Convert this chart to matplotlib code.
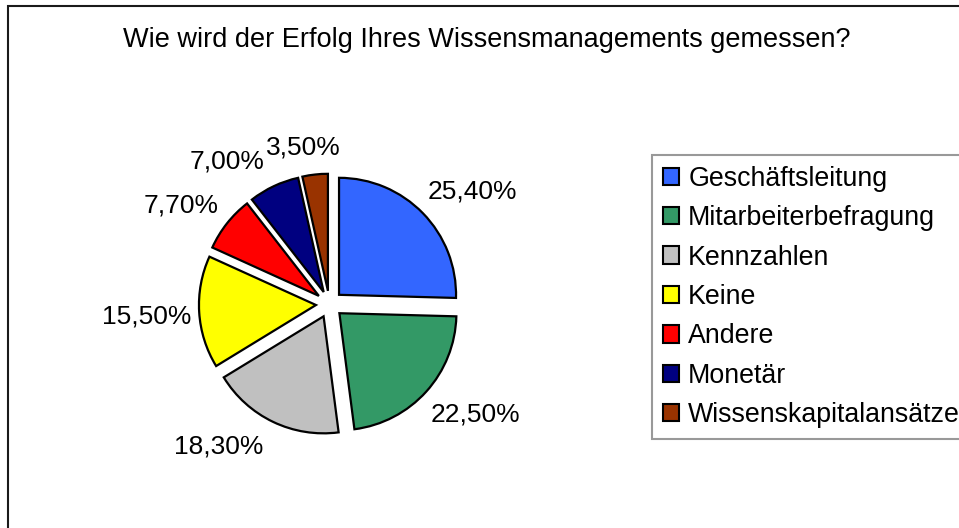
import numpy as np
import matplotlib
matplotlib.use('Agg')
from matplotlib import pyplot as plt
from matplotlib.patches import Patch, Rectangle

# survey data (percent)
categories = ['Geschäftsleitung', 'Mitarbeiterbefragung', 'Kennzahlen', 'Keine',
              'Andere', 'Monetär', 'Wissenskapitalansätze']
values = [25.4, 22.5, 18.3, 15.5, 7.7, 7.0, 3.5]
colors = ['#3366FF', '#339966', '#C0C0C0', '#FFFF00', '#FF0000', '#000080', '#993300']
title = 'Wie wird der Erfolg Ihres Wissensmanagements gemessen?'

# label placement (polar, relative to pie centre, in pie radii)
label_angle = [36.6, -38.9, -126.5, -174.1, 148.2, 127.0, 100.0]
label_radius = [1.52, 1.60, 1.59, 1.57, 1.49, 1.45, 1.30]

plt.rcParams['font.family'] = ['Liberation Sans', 'DejaVu Sans']

W, H = 959, 528
fig = plt.figure(figsize=(W / 100, H / 100), dpi=100)

# outer chart frame (cut off at right and bottom)
fig.patches.append(Rectangle((8 / W, -0.1), 1.2, 1 - 6 / H + 0.1,
                             transform=fig.transFigure, fill=False,
                             edgecolor='#1a1a1a', linewidth=1.5, clip_on=False))

fig.text(487 / W, 1 - 47 / H, title, ha='center', va='baseline', fontsize=19.5)

# pie axes: centre at (329.4, 304.2) px, radius 117 px
lim = 1.6
cx, cy, R = 329.4, 304.2, 117.0
side = 2 * lim * R
ax = fig.add_axes([(cx - side / 2) / W, (H - cy - side / 2) / H, side / W, side / H])

wedges, _ = ax.pie(values, colors=colors, startangle=90, counterclock=False,
                   explode=[0.115] * len(values),
                   wedgeprops=dict(edgecolor='black', linewidth=1.6))
ax.set_xlim(-lim, lim)
ax.set_ylim(-lim, lim)
ax.set_aspect('auto')
ax.axis('off')

for v, a, r in zip(values, label_angle, label_radius):
    t = np.deg2rad(a)
    ax.text(r * np.cos(t), r * np.sin(t), f'{v:.2f}%'.replace('.', ','),
            ha='center', va='baseline', fontsize=19)

handles = [Patch(facecolor=c, edgecolor='black', linewidth=1.5) for c in colors]
leg = fig.legend(handles, categories, loc='upper left',
                 bbox_to_anchor=(652 / W, 1 - 155 / H), fontsize=19.3,
                 frameon=True, fancybox=False, borderaxespad=0, borderpad=0.4,
                 handlelength=0.62, handleheight=0.62, handletextpad=0.33,
                 labelspacing=0.5)
leg.get_frame().set_edgecolor('#808080')
leg.get_frame().set_linewidth(1.5)

plt.savefig('out.png', dpi=100)
